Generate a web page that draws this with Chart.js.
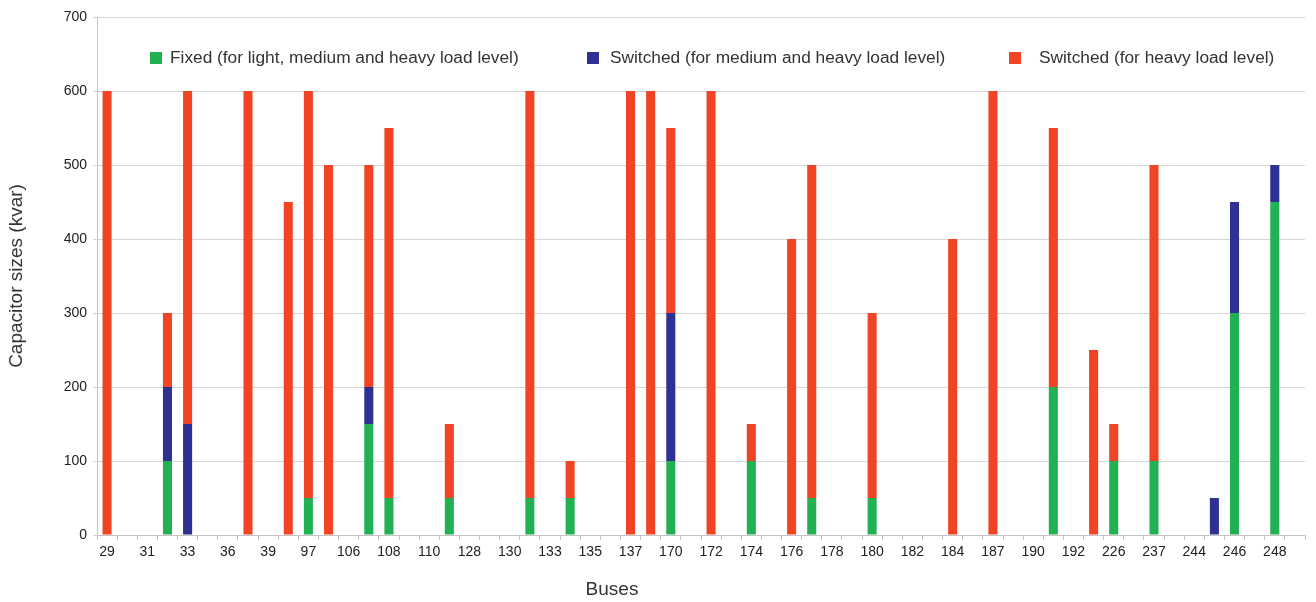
<!DOCTYPE html>
<html>
<head>
<meta charset="utf-8">
<script src="https://cdn.jsdelivr.net/npm/chart.js@4.4.1/dist/chart.umd.min.js"></script>
<style>
  body { margin: 0; background: #fff; }
  #capChart { display: block; }
</style>
</head>
<body>
<canvas id="capChart" width="1316" height="602"></canvas>
<script>
// bus numbers printed under every second slot
const shownBuses = ["29", "31", "33", "36", "39", "97", "106", "108", "110", "128",
                    "130", "133", "135", "137", "170", "172", "174", "176", "178", "180",
                    "182", "184", "187", "190", "192", "226", "237", "244", "246", "248"];

// capacitor sizes in kvar, one value per slot (60 slots)
const fixedKvar = [
    0, 0, 0, 100, 0, 0, 0, 0, 0, 0,
    50, 0, 0, 150, 50, 0, 0, 50, 0, 0,
    0, 50, 0, 50, 0, 0, 0, 0, 100, 0,
    0, 0, 100, 0, 0, 50, 0, 0, 50, 0,
    0, 0, 0, 0, 0, 0, 0, 200, 0, 0,
    100, 0, 100, 0, 0, 0, 300, 0, 450, 0
];
const switchedMedHeavy = [
    0, 0, 0, 100, 150, 0, 0, 0, 0, 0,
    0, 0, 0, 50, 0, 0, 0, 0, 0, 0,
    0, 0, 0, 0, 0, 0, 0, 0, 200, 0,
    0, 0, 0, 0, 0, 0, 0, 0, 0, 0,
    0, 0, 0, 0, 0, 0, 0, 0, 0, 0,
    0, 0, 0, 0, 0, 50, 150, 0, 50, 0
];
const switchedHeavy = [
    600, 0, 0, 100, 450, 0, 0, 600, 0, 450,
    550, 500, 0, 300, 500, 0, 0, 100, 0, 0,
    0, 550, 0, 50, 0, 0, 600, 600, 250, 0,
    600, 0, 50, 0, 400, 450, 0, 0, 250, 0,
    0, 0, 400, 0, 600, 0, 0, 350, 0, 250,
    50, 0, 400, 0, 0, 0, 0, 0, 0, 0
];

// every other slot has no printed label
const busLabels = [];
shownBuses.forEach(b => { busLabels.push(b); busLabels.push(""); });

const fontFamily = '"Liberation Sans", Arial, sans-serif';
Chart.defaults.font.family = fontFamily;

// legend drawn inside the plot, plus the x axis title
const legendX = [150, 587, 1009];
const legendTextX = [170, 610, 1039];
const insideLegend = {
    id: "insideLegend",
    afterDraw(chart) {
        const ctx = chart.ctx;
        ctx.save();
        ctx.font = "17.3px " + fontFamily;
        ctx.textBaseline = "middle";
        chart.data.datasets.forEach((ds, i) => {
            ctx.fillStyle = ds.backgroundColor;
            ctx.fillRect(legendX[i], 52, 12, 12);
            ctx.fillStyle = "#333";
            ctx.fillText(ds.label, legendTextX[i], 58);
        });
        ctx.font = "19px " + fontFamily;
        ctx.textAlign = "center";
        ctx.fillText("Buses", 612, 590);
        ctx.restore();
    }
};

const ctx = document.getElementById("capChart").getContext("2d");
new Chart(ctx, {
    type: "bar",
    data: {
        labels: busLabels,
        datasets: [
            { label: "Fixed (for light, medium and heavy load level)", data: fixedKvar, backgroundColor: "#22b152" },
            { label: "Switched (for medium and heavy load level)", data: switchedMedHeavy, backgroundColor: "#2e3192" },
            { label: "Switched (for heavy load level)", data: switchedHeavy, backgroundColor: "#f04424" }
        ]
    },
    options: {
        responsive: false,
        animation: false,
        categoryPercentage: 0.45,
        barPercentage: 1,
        layout: { padding: { top: 17, right: 11, left: 0, bottom: 0 } },
        plugins: {
            legend: { display: false },
            tooltip: { enabled: false }
        },
        scales: {
            x: {
                stacked: true,
                grid: { drawOnChartArea: false, drawTicks: true, tickLength: 5, color: "#c4c4c4" },
                border: { color: "#c4c4c4" },
                ticks: { autoSkip: false, maxRotation: 0, color: "#222", font: { size: 14 }, padding: 4 },
                afterFit(scale) { scale.height = 67; }
            },
            y: {
                stacked: true,
                min: 0,
                max: 700,
                ticks: { stepSize: 100, color: "#222", font: { size: 14 }, padding: 6 },
                grid: { color: "#d6d6d6", tickLength: 4 },
                border: { color: "#c4c4c4" },
                title: {
                    display: true,
                    text: "Capacitor sizes (kvar)",
                    color: "#333",
                    font: { size: 19 },
                    padding: { top: 5, bottom: 0 }
                },
                afterFit(scale) { scale.width = 97; }
            }
        }
    },
    plugins: [insideLegend]
});
</script>
</body>
</html>
